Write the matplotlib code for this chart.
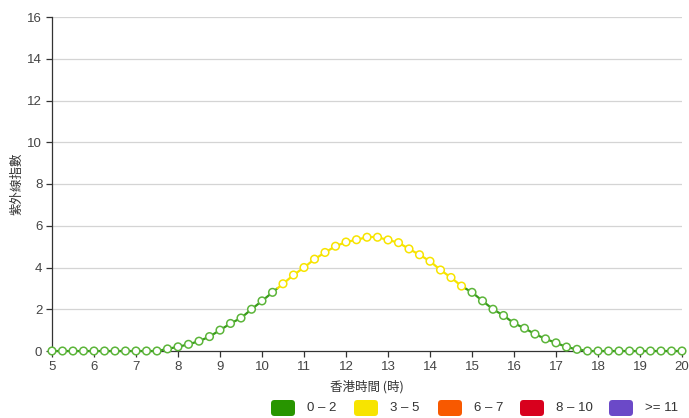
import numpy as np
import matplotlib
matplotlib.use("Agg")
import matplotlib.pyplot as plt
from matplotlib.collections import LineCollection
from matplotlib.patches import FancyBboxPatch

plt.rcParams['font.family'] = ['Liberation Sans', 'Noto Sans CJK TC', 'DejaVu Sans']

# Hong Kong time, every 15 minutes from 05:00 to 20:00
hours = np.arange(5.0, 20.0 + 0.001, 0.25)

uv_index = [
    0, 0, 0, 0, 0, 0, 0, 0, 0, 0,            # 05:00 - 07:15
    0, 0.10, 0.20, 0.32, 0.47, 0.69, 1.00, 1.32, 1.58, 2.00,   # 07:30 - 09:45
    2.40, 2.81, 3.22, 3.64, 4.00, 4.40, 4.72, 5.02, 5.22, 5.33,  # 10:00 - 12:15
    5.45, 5.45, 5.32, 5.19, 4.89, 4.61, 4.30, 3.88, 3.52, 3.11,  # 12:30 - 14:45
    2.81, 2.40, 2.00, 1.70, 1.33, 1.09, 0.81, 0.58, 0.39, 0.19,  # 15:00 - 17:15
    0.08, 0, 0, 0, 0, 0, 0, 0, 0, 0, 0,      # 17:30 - 20:00
]

x_ticks = list(range(5, 21))
y_ticks = list(range(0, 17, 2))

level_labels = ["0 – 2", "3 – 5", "6 – 7", "8 – 10", ">= 11"]
level_colors = ["#289500", "#f7e400", "#f85900", "#d8001d", "#6b49c8"]
level_edges = [3, 6, 8, 11]

line_colors = ["#3a9c1c", "#f7e400", "#f85900", "#d8001d", "#6b49c8"]
marker_colors = ["#5cb53a", "#f7e400", "#f85900", "#d8001d", "#6b49c8"]


def level_of(v):
    idx = 0
    for e in level_edges:
        if v >= e:
            idx += 1
    return idx


def colored_segments(x, y):
    segs, cols = [], []
    for i in range(len(x) - 1):
        x0, y0, x1, y1 = x[i], y[i], x[i + 1], y[i + 1]
        cuts = [0.0, 1.0]
        for e in level_edges:
            if (y0 - e) * (y1 - e) < 0:
                cuts.append((e - y0) / (y1 - y0))
        cuts.sort()
        for a, b in zip(cuts[:-1], cuts[1:]):
            pa = (x0 + a * (x1 - x0), y0 + a * (y1 - y0))
            pb = (x0 + b * (x1 - x0), y0 + b * (y1 - y0))
            segs.append([pa, pb])
            cols.append(line_colors[level_of((pa[1] + pb[1]) / 2)])
    return segs, cols


W, H = 689, 418
fig = plt.figure(figsize=(W / 100, H / 100), dpi=100)
ax = fig.add_axes([52 / W, 1 - 351 / H, 630 / W, 334 / H])

ax.set_xlim(5, 20)
ax.set_ylim(0, 16)
ax.set_xticks(x_ticks)
ax.set_yticks(y_ticks)
ax.set_xticklabels([str(t) for t in x_ticks])
ax.set_yticklabels([str(t) for t in y_ticks])

for yv in y_ticks[1:]:
    ax.axhline(yv, color="#d4d4d4", linewidth=0.9, zorder=0)

for side in ("top", "right"):
    ax.spines[side].set_visible(False)
for side in ("left", "bottom"):
    ax.spines[side].set_color("#333333")
    ax.spines[side].set_linewidth(0.9)
ax.tick_params(axis="both", direction="out", length=4, width=0.9,
               color="#333333", labelcolor="#444444", labelsize=9.5, pad=3)

segs, cols = colored_segments(list(hours), uv_index)
lc = LineCollection(segs, colors=cols, linewidths=1.6, zorder=3, clip_on=False,
                    capstyle="round")
ax.add_collection(lc)

ax.scatter(hours, uv_index, s=30, facecolors="white",
           edgecolors=[marker_colors[level_of(v)] for v in uv_index],
           linewidths=1.1, zorder=4, clip_on=False)

ax.set_ylabel("紫外線指數", family=["Noto Sans CJK TC"], fontsize=9,
              color="#333333")
ax.yaxis.set_label_coords(-0.046, 0.5)
ax.set_xlabel("香港時間 (時)", family=["Noto Sans CJK TC", "Liberation Sans"],
              fontsize=9, color="#333333", labelpad=5)

# legend along the bottom, laid out in pixel space
box_x = [271, 354, 438, 520, 609]
box_w, box_h = 24, 16
box_top = 400
for bx, lab, col in zip(box_x, level_labels, level_colors):
    patch = FancyBboxPatch(((bx) / 100, (H - box_top - box_h) / 100),
                           box_w / 100, box_h / 100,
                           boxstyle="round,pad=0,rounding_size=0.035",
                           transform=fig.dpi_scale_trans, facecolor=col,
                           edgecolor="none")
    fig.add_artist(patch)
    fig.text((bx + box_w + 12) / W, 1 - (box_top + box_h / 2) / H, lab,
             ha="left", va="center", fontsize=9.5, color="#333333")

fig.savefig("out.png", dpi=100, facecolor="white")
